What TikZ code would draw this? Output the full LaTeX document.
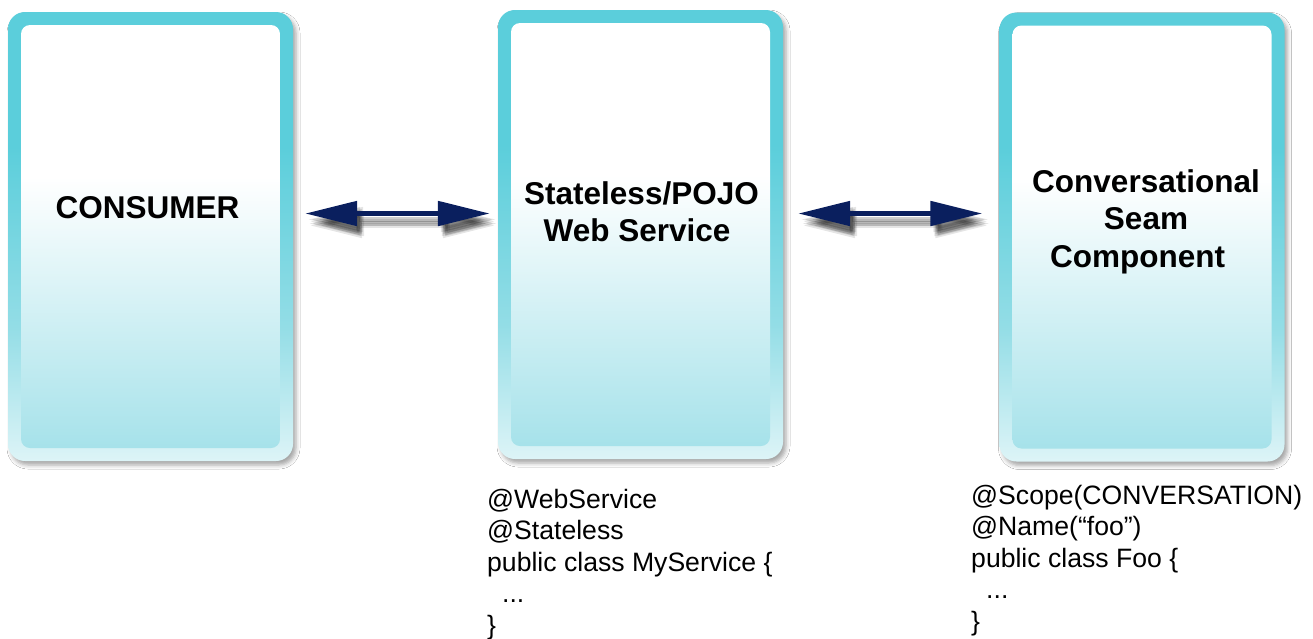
\documentclass[tikz,border=0pt]{standalone}
\usepackage{fontspec}
\setmainfont{Liberation Sans}
\usetikzlibrary{arrows.meta,shadows.blur}
\definecolor{rimtop}{HTML}{5BCEDB}
\definecolor{rimmid}{HTML}{93DDE6}
\definecolor{rimbot}{HTML}{DDF4F7}
\definecolor{inbot}{HTML}{A6E2EA}
\definecolor{navy}{HTML}{0A1F5E}
\pgfdeclareverticalshading{rimshade}{100bp}{color(0bp)=(rimbot); color(25bp)=(rimbot); color(40bp)=(rimmid); color(60bp)=(rimtop); color(100bp)=(rimtop)}
\pgfdeclareverticalshading{innershade}{100bp}{color(0bp)=(inbot); color(25bp)=(inbot); color(57bp)=(white); color(100bp)=(white)}
\begin{document}
\begin{tikzpicture}[x=1pt,y=-1pt,
  outerbox/.style={rectangle, rounded corners=17pt, minimum width=285pt, minimum height=449pt, inner sep=0pt, shading=rimshade,
    blur shadow={shadow xshift=3pt, shadow yshift=-4pt, shadow blur radius=4pt, shadow opacity=35}},
  innerbox/.style={rectangle, rounded corners=9pt, minimum width=259pt, minimum height=423pt, inner sep=0pt, shading=innershade},
  lbl/.style={font=\fontsize{31.5}{37.5}\selectfont\bfseries, align=center, inner sep=0pt},
  code/.style={font=\fontsize{26.6}{31.5}\selectfont, align=left, inner sep=0pt, anchor=north west},
  dbl/.style={navy, line width=5pt, {Triangle[length=52pt,width=24pt]}-{Triangle[length=52pt,width=24pt]}},
  dblshadow/.style={black, opacity=0.10, line width=5pt, {Triangle[length=52pt,width=24pt]}-{Triangle[length=52pt,width=24pt]}}
]
\useasboundingbox[fill=white] (0,0) rectangle (1313,638);

% boxes
\node[outerbox] (consumer) at (150.5,236.5) {};
\node[innerbox] (consumerIn) at (consumer.center) {};
\node[outerbox] (service) at (640.5,234.5) {};
\node[innerbox] (serviceIn) at (service.center) {};
\node[outerbox] (seam) at (1142,237) {};
\node[innerbox] (seamIn) at (seam.center) {};

% labels
\node[lbl, anchor=base] (consumerLbl) at (147.5,218) {CONSUMER};
\node[lbl, anchor=north] (serviceLbl) at (641.5,181) {Stateless/POJO\\Web Service\hspace*{9pt}};
\node[lbl, anchor=north] (seamLbl) at (1146,169) {Conversational\\Seam\hspace*{38pt}\\Component\hspace*{17pt}};

% arrow shadows
\foreach \dx/\dy in {3/6,5/8,7/10,4/10,6/6,5/12} {
  \draw[dblshadow] ([xshift=12pt+\dx pt,yshift=23pt-\dy pt]consumer.east) -- ([xshift=-8pt+\dx pt,yshift=21pt-\dy pt]service.west);
  \draw[dblshadow] ([xshift=15pt+\dx pt,yshift=21pt-\dy pt]service.east) -- ([xshift=-17pt+\dx pt,yshift=23.5pt-\dy pt]seam.west);
}
% arrows
\draw[dbl] ([xshift=12pt,yshift=23pt]consumer.east) -- ([xshift=-8pt,yshift=21pt]service.west);
\draw[dbl] ([xshift=15pt,yshift=21pt]service.east) -- ([xshift=-17pt,yshift=23.5pt]seam.west);

% code
\node[code] (code1) at (487,489) {@WebService\\@Stateless\\public class MyService \{\\\hspace*{15pt}...\\\}};
\node[code] (code2) at (971,485) {@Scope(CONVERSATION)\\@Name(“foo”)\\public class Foo \{\\\hspace*{15pt}...\\\}};
\end{tikzpicture}
\end{document}
